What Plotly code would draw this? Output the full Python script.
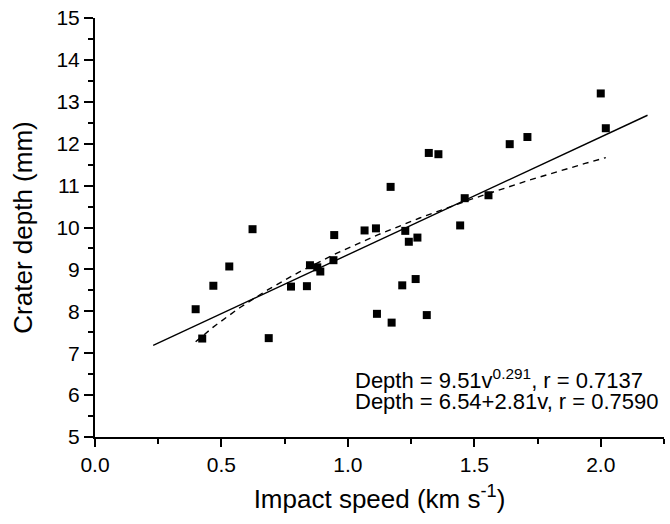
import numpy as np
import plotly.graph_objects as go

# Measured data (impact speed km/s, crater depth mm)
speed = [0.398, 0.424, 0.468, 0.531, 0.623, 0.687, 0.775, 0.838, 0.850, 0.879,
         0.891, 0.943, 0.946, 1.066, 1.111, 1.115, 1.169, 1.173, 1.215, 1.227,
         1.241, 1.268, 1.275, 1.312, 1.320, 1.358, 1.444, 1.462, 1.556, 1.640,
         1.710, 2.000, 2.020]
depth = [8.05, 7.35, 8.61, 9.07, 9.96, 7.36, 8.59, 8.60, 9.10, 9.05,
         8.95, 9.22, 9.82, 9.93, 9.98, 7.94, 10.97, 7.73, 8.62, 9.92,
         9.66, 8.77, 9.76, 7.91, 11.78, 11.75, 10.05, 10.70, 10.77, 11.99,
         12.16, 13.20, 12.37]

# Fit coefficients printed on the chart
pow_a, pow_b = 9.51, 0.291
lin_a, lin_b = 6.54, 2.81
lin_range = [0.23, 2.185]
pow_range = [0.398, 2.02]

x_ticks = [0.0, 0.5, 1.0, 1.5, 2.0]
x_tick_labels = ["0.0", "0.5", "1.0", "1.5", "2.0"]
y_ticks = list(range(5, 16))

FONT = "Liberation Sans, Arial, sans-serif"

xl = np.array(lin_range)
yl = lin_a + lin_b * xl
xp = np.linspace(pow_range[0], pow_range[1], 120)
yp = pow_a * xp ** pow_b

fig = go.Figure()
fig.add_trace(go.Scatter(x=xl, y=yl, mode="lines",
                         line=dict(color="black", width=1.4), showlegend=False))
fig.add_trace(go.Scatter(x=xp, y=yp, mode="lines",
                         line=dict(color="black", width=1.4, dash="6px,5px"), showlegend=False))
fig.add_trace(go.Scatter(x=speed, y=depth, mode="markers",
                         marker=dict(symbol="square", size=8, color="black", line=dict(width=0)),
                         showlegend=False))

fig.add_annotation(x=1.02, y=6.38, xref="x", yref="y", xanchor="left", yanchor="middle",
                   text="Depth = 9.51v<sup>0.291</sup>, r = 0.7137", showarrow=False,
                   font=dict(family=FONT, size=22, color="black"))
fig.add_annotation(x=1.02, y=5.84, xref="x", yref="y", xanchor="left", yanchor="middle",
                   text="Depth = 6.54+2.81v, r = 0.7590", showarrow=False,
                   font=dict(family=FONT, size=22, color="black"))

fig.update_layout(
    width=670, height=524,
    margin=dict(l=95, r=6, t=18, b=87),
    paper_bgcolor="white", plot_bgcolor="white",
    font=dict(family=FONT, size=21, color="black"),
)
fig.update_xaxes(range=[0, 2.2501], showgrid=False, zeroline=False,
                 showline=True, linecolor="black", linewidth=2,
                 ticks="outside", ticklen=8, tickwidth=1.5, tickcolor="black",
                 tickvals=x_ticks, ticktext=x_tick_labels,
                 tickfont=dict(family=FONT, size=21),
                 minor=dict(dtick=0.25, tick0=0, ticks="outside", ticklen=5, tickwidth=1.5, tickcolor="black"),
                 title=dict(text="Impact speed (km s<sup>-1</sup>)", font=dict(family=FONT, size=26), standoff=15))
fig.update_yaxes(range=[5, 15.001], showgrid=False, zeroline=False,
                 showline=True, linecolor="black", linewidth=2,
                 ticks="outside", ticklen=9, tickwidth=1.5, tickcolor="black",
                 tickvals=y_ticks,
                 tickfont=dict(family=FONT, size=21),
                 minor=dict(dtick=0.5, tick0=5, ticks="outside", ticklen=5, tickwidth=1.5, tickcolor="black"),
                 title=dict(text="Crater depth (mm)", font=dict(family=FONT, size=26), standoff=16))

fig.write_html("out.html")
